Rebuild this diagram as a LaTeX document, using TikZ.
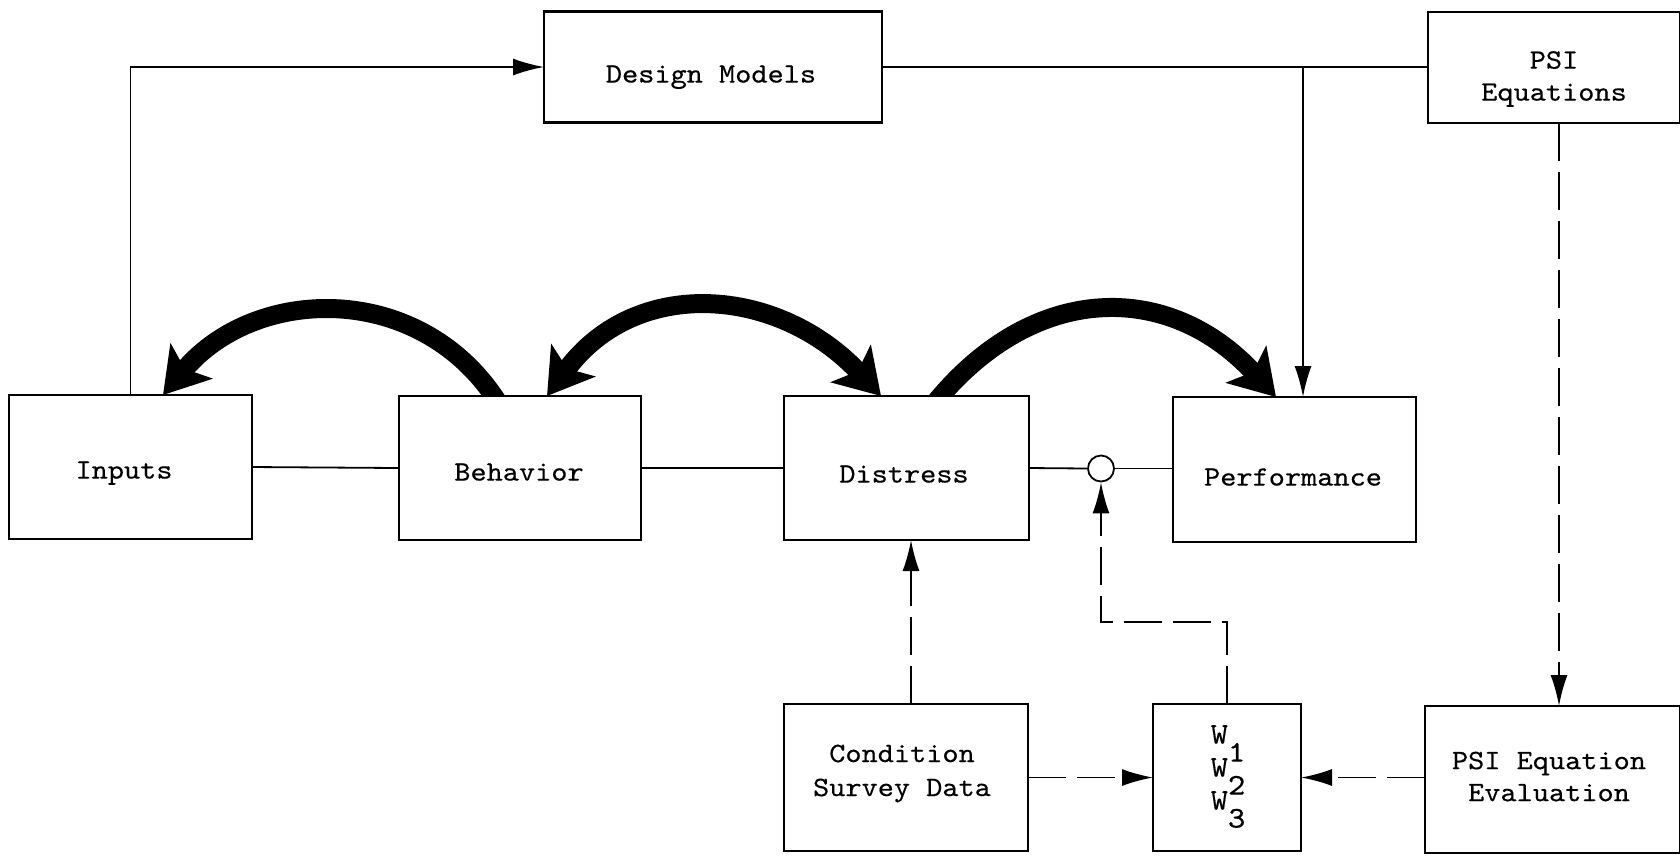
\documentclass[tikz,border=0pt]{standalone}
\usepackage{fontspec}
\setmainfont{lmmono10-regular.otf}[FakeStretch=1.1, FakeBold=0.35]
\usetikzlibrary{arrows.meta,calc}
\pgfdeclarelayer{back}
\pgfsetlayers{back,main}
\newcommand\labelfont{\fontsize{14pt}{17pt}\selectfont}
\newcommand\tightfont{\fontsize{14pt}{16pt}\selectfont}
\begin{document}
\begin{tikzpicture}[x=0.5pt,y=-0.5pt,
  box/.style={draw, line width=1.1pt, fill=white, inner sep=0pt, outer sep=0pt},
  txt/.style={font=\labelfont, align=center, inner sep=0pt},
  single/.style={txt, text height=8.55pt, text depth=0pt},
  link/.style={line width=0.9pt},
  arr/.style={link, -{Latex[length=15.5pt,width=8.5pt]}},
  dasharr/.style={link, dash pattern=on 19pt off 5.5pt, -{Latex[length=15.5pt,width=8.5pt]}},
  bighead/.tip={Stealth[length=22pt,width=27pt,inset=5pt]},
  bigarc/.style={line width=9.5pt, -bighead},
  bigarcboth/.style={line width=9.5pt, bighead-bighead}]

\useasboundingbox (0,0) rectangle (1680,859);

% boxes
\node[box, minimum width=169pt,   minimum height=55.5pt] (dm)       at (713,67) {};
\node[box, minimum width=126pt,   minimum height=55.5pt] (psi)      at (1554,67.5) {};
\node[box, minimum width=121.5pt, minimum height=72pt]   (inputs)   at (130.5,467) {};
\node[box, minimum width=121pt,   minimum height=72pt]   (behavior) at (520,468) {};
\node[box, minimum width=122.5pt, minimum height=72pt]   (distress) at (906.5,468) {};
\node[box, minimum width=121.5pt, minimum height=72.5pt] (perf)     at (1294.5,469.5) {};
\node[box, minimum width=122pt,   minimum height=73.5pt] (csd)      at (906,777.5) {};
\node[box, minimum width=74pt,    minimum height=73.5pt] (wbox)     at (1227,777.5) {};
\node[box, minimum width=127.5pt, minimum height=73.5pt] (psie)     at (1552.5,779.5) {};
\node[draw, circle, line width=0.9pt, fill=white, minimum size=13pt, inner sep=0pt] (junction) at (1101,468.5) {};

% labels
\node[single] (dm-t)       at (711,74)   {Design Models};
\node[txt, font=\tightfont] (psi-t) at (1554,79) {PSI\\Equations};
\node[single] (inputs-t)   at (124,470)  {Inputs};
\node[single] (behavior-t) at (519,472)  {Behavior};
\node[single] (distress-t) at (904,474)  {Distress};
\node[single] (perf-t)     at (1293,477) {Performance};
\node[txt]    (csd-t)      at (902,773.5) {Condition\\Survey Data};
\node[txt, font=\tightfont] (psie-t) at (1549,776.5) {PSI Equation\\Evaluation};
\node[txt, font=\fontsize{15pt}{16.5pt}\selectfont] (w-t) at (1228,767.5)
  {W\smash{\raisebox{-9pt}{1}}\\W\smash{\raisebox{-9pt}{2}}\\W\smash{\raisebox{-9pt}{3}}};

% helper points for the connectors
\coordinate (tap)    at (1303,67);
\coordinate (psitap) at (1559,0);
\coordinate (csdtap) at (911,0);
\coordinate (wbend)  at (0,622);

% solid connectors
\draw[arr]  (inputs.north) |- (dm.west);
\draw[link] (dm.east) -- (psi.west |- dm.east);
\draw[arr]  (tap) -- (tap |- perf.north);
\draw[link] (inputs.east) -- (behavior.west);
\draw[link] (behavior.east) -- (distress.west);
\draw[link] (distress.east) -- (junction.west);
\draw[link] (junction.east) -- (junction.east -| perf.west);

% dashed connectors
\draw[dasharr] (psi.south -| psitap) -- (psie.north -| psitap);
\draw[dasharr] (csd.north -| csdtap) -- (distress.south -| csdtap);
\draw[dasharr] (wbox.north) -- (wbox.north |- wbend) -| (junction.south);
\draw[dasharr] (csd.east) -- (wbox.west);
\draw[dasharr] (psie.west |- wbox.east) -- (wbox.east);

% heavy curved arrows, kept under the boxes
\begin{pgfonlayer}{back}
  \fill[white] (0,0) rectangle (1680,859);
  \draw[bigarc] ([xshift=-10.5pt,yshift=-4pt]behavior.north)
     to[out=122,in=50,looseness=1.1] ([xshift=16.25pt]inputs.north);
  \draw[bigarcboth] ([xshift=13.5pt]behavior.north)
     to[out=53.6,in=133,looseness=1.15] ([xshift=-12.75pt]distress.north);
  \draw[bigarc] ([xshift=13.75pt,yshift=-4pt]distress.north)
     to[out=51,in=132.5,looseness=1.18] ([xshift=-9.25pt]perf.north);
\end{pgfonlayer}
\end{tikzpicture}
\end{document}
